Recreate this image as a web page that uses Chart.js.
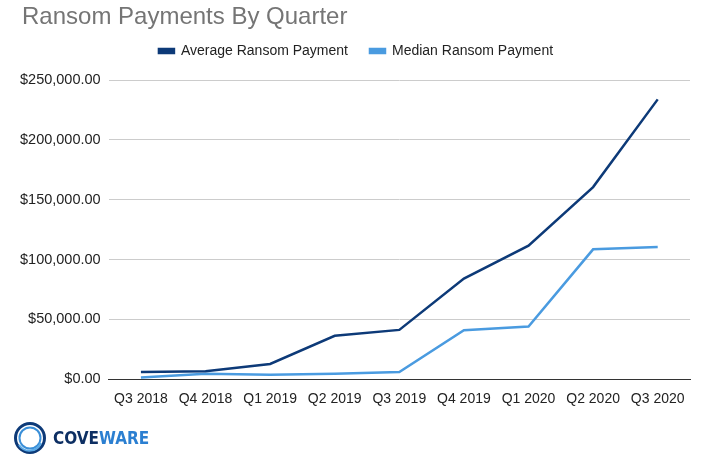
<!DOCTYPE html>
<html>
<head>
<meta charset="utf-8">
<script src="https://cdn.jsdelivr.net/npm/chart.js@4"></script>
<style>
  html, body { margin: 0; padding: 0; background: #fff; }
  #wrap { position: relative; width: 727px; height: 464px; }
  #title {
    position: absolute; left: 22px; top: 2px;
    font-family: "Liberation Sans", Arial, sans-serif;
    font-size: 24px; color: #757575;
  }
  #logo { position: absolute; left: 13px; top: 421px; display: flex; align-items: center; }
  #logo span {
    font-family: "DejaVu Sans Condensed", "Liberation Sans Narrow", sans-serif;
    font-weight: bold; font-size: 17px; margin-left: 6px;
  }
</style>
</head>
<body>
<div id="wrap">
  <canvas id="chart" width="727" height="464"></canvas>
  <div id="title">Ransom Payments By Quarter</div>
  <div id="logo">
    <svg width="34" height="34" viewBox="0 0 34 34">
      <circle cx="17" cy="17" r="14.5" fill="none" stroke="#0d3a78" stroke-width="3"/>
      <circle cx="17" cy="17" r="10.5" fill="none" stroke="#3a8fd8" stroke-width="2"/>
      <path d="M 6 24 A 12.5 12.5 0 0 0 28 22" fill="none" stroke="#5aa9e6" stroke-width="2"/>
    </svg>
    <span><span style="color:#0d2f63;margin:0">COVE</span><span style="color:#2b7fd1;margin:0">WARE</span></span>
  </div>
</div>
<script>
// quarters on the x axis
const quarters = ['Q3 2018', 'Q4 2018', 'Q1 2019', 'Q2 2019', 'Q3 2019', 'Q4 2019', 'Q1 2020', 'Q2 2020', 'Q3 2020'];

// values
const averagePayment = [5973, 6733, 12762, 36295, 41198, 84116, 111605, 160500, 233817];
const medianPayment = [1500, 4500, 3800, 4500, 6000, 41000, 44000, 108500, 110500];

const yTicks = [0, 50000, 100000, 150000, 200000, 250000];

const fmt = v => '$' + v.toLocaleString('en-US', { minimumFractionDigits: 2, maximumFractionDigits: 2 });
const font = { family: '"Liberation Sans", Arial, sans-serif', size: 14 };

// extra room under the legend, and nudge it right a bit
const legendGap = {
  id: 'legendGap',
  beforeInit(chart) {
    const fit = chart.legend.fit;
    chart.legend.fit = function () {
      fit.bind(chart.legend)();
      this.height += 12;
    };
  },
  afterLayout(chart) {
    chart.legend.left += 5;
    chart.legend.right += 5;
  }
};

new Chart(document.getElementById('chart'), {
  type: 'line',
  data: {
    labels: quarters,
    datasets: [{
      label: 'Average Ransom Payment',
      data: averagePayment,
      borderColor: '#0d3a78',
      backgroundColor: '#0d3a78',
      borderWidth: 2.5,
      pointRadius: 0,
      tension: 0
    }, {
      label: 'Median Ransom Payment',
      data: medianPayment,
      borderColor: '#4a9be0',
      backgroundColor: '#4a9be0',
      borderWidth: 2.5,
      pointRadius: 0,
      tension: 0
    }]
  },
  options: {
    responsive: false,
    animation: false,
    layout: { padding: { top: 22, left: 12, right: 37, bottom: 52 } },
    plugins: {
      legend: {
        labels: {
          boxWidth: 15,
          boxHeight: 4,
          color: '#222',
          padding: 22,
          font: font
        }
      },
      tooltip: { enabled: false }
    },
    scales: {
      x: {
        offset: true,
        grid: { display: false },
        border: { color: '#333', width: 1 },
        ticks: { color: '#222', padding: 4, maxRotation: 0, font: font }
      },
      y: {
        min: 0,
        max: 250000,
        afterBuildTicks: axis => { axis.ticks = yTicks.map(v => ({ value: v })); },
        grid: { color: '#cccccc', drawTicks: false },
        border: { display: false },
        ticks: {
          color: '#222', padding: 8, callback: v => fmt(v),
          font: { family: '"Liberation Sans", Arial, sans-serif', size: 14.5 }
        }
      }
    }
  },
  plugins: [legendGap]
});
</script>
</body>
</html>
